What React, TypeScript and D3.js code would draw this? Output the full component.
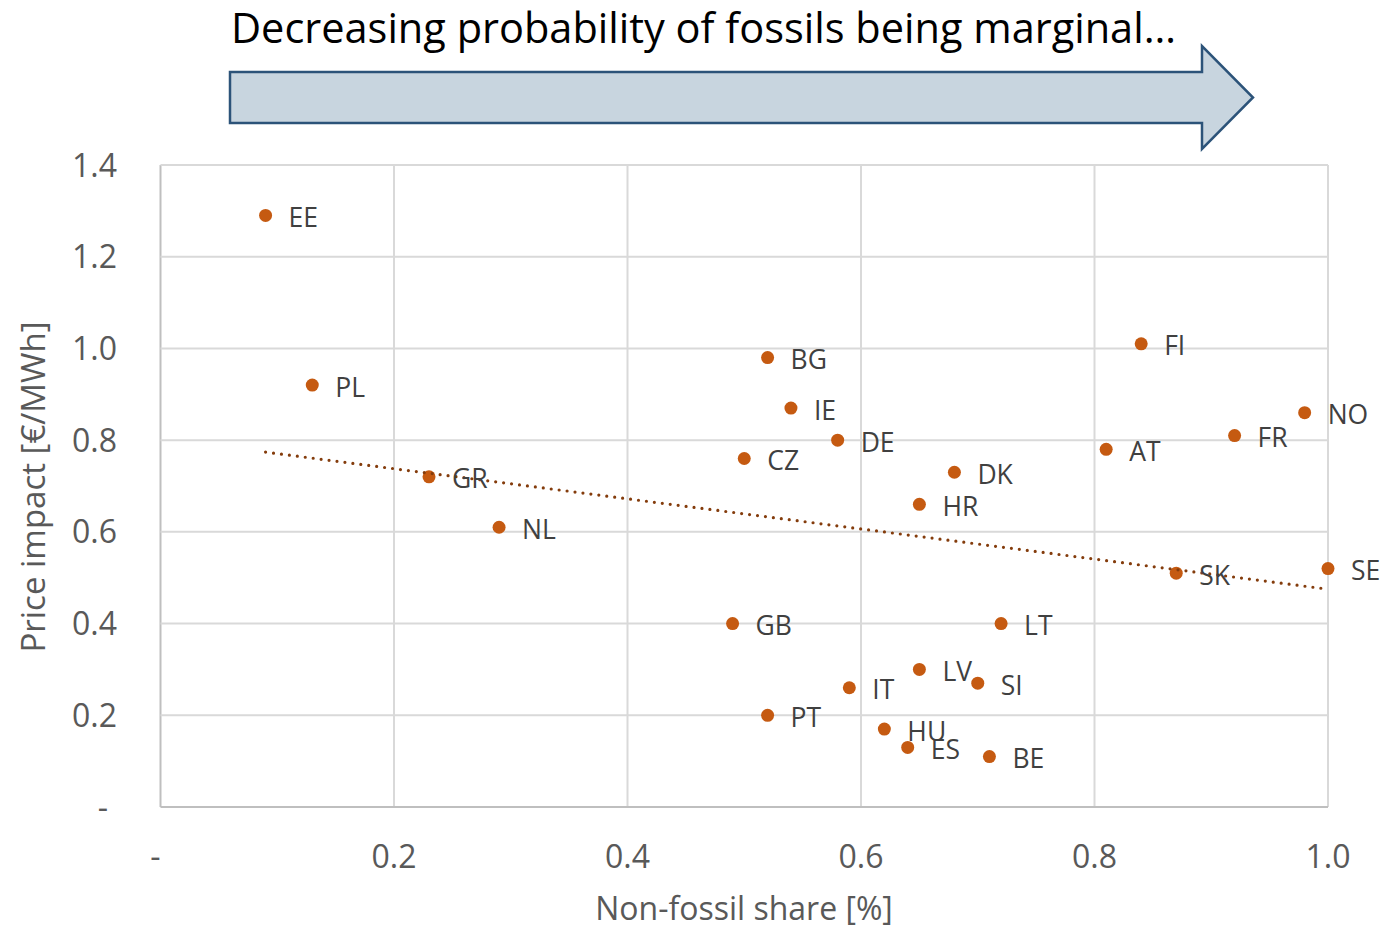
import React from "react";
import * as d3 from "d3";

// Country codes with their non-fossil share and marginal price impact
const countries = ["EE", "PL", "GR", "NL", "GB", "CZ", "BG", "IE", "DE", "PT", "IT", "HU", "ES", "LV", "HR", "DK", "SI", "BE", "LT", "AT", "FI", "SK", "FR", "NO", "SE"];
const nonFossilShare = [0.09, 0.13, 0.23, 0.29, 0.49, 0.5, 0.52, 0.54, 0.58, 0.52, 0.59, 0.62, 0.64, 0.65, 0.65, 0.68, 0.7, 0.71, 0.72, 0.81, 0.84, 0.87, 0.92, 0.98, 1.0];
const priceImpact = [1.29, 0.92, 0.72, 0.61, 0.4, 0.76, 0.98, 0.87, 0.8, 0.2, 0.26, 0.17, 0.13, 0.3, 0.66, 0.73, 0.27, 0.11, 0.4, 0.78, 1.01, 0.51, 0.81, 0.86, 0.52];

const xTicks = [0, 0.2, 0.4, 0.6, 0.8, 1.0];
const yTicks = [0, 0.2, 0.4, 0.6, 0.8, 1.0, 1.2, 1.4];

const titleText = "Decreasing probability of fossils being marginal…";
const xTitle = "Non-fossil share [%]";
const yTitle = "Price impact [€/MWh]";

const FONT = "'Open Sans', sans-serif";
const W = 1384;
const H = 928;

export default function App() {
  const x = d3.scaleLinear().domain([0, 1]).range([160.5, 1328]);
  const y = d3.scaleLinear().domain([0, 1.4]).range([807, 165]);

  const points = countries.map((c, i) => ({ c, x: nonFossilShare[i], y: priceImpact[i] }));

  // Least-squares linear trend
  const mx = d3.mean(nonFossilShare)!;
  const my = d3.mean(priceImpact)!;
  const sxy = d3.sum(points, (p) => (p.x - mx) * (p.y - my));
  const sxx = d3.sum(points, (p) => (p.x - mx) ** 2);
  const slope = sxy / sxx;
  const intercept = my - slope * mx;
  const [xmin, xmax] = d3.extent(nonFossilShare) as [number, number];
  const trend = d3
    .line<number>()
    .x((v) => x(v))
    .y((v) => y(intercept + slope * v))([xmin, xmax]);

  const fmt = (v: number) => (v === 0 ? "-" : d3.format(".1f")(v));

  // Banner arrow geometry
  const ax0 = 230, ax1 = 1202, ay0 = 72, ay1 = 123, headTop = 46, headBot = 149, tipX = 1253;
  const arrowPath = `M${ax0},${ay0} L${ax1},${ay0} L${ax1},${headTop} L${tipX},${(ay0 + ay1) / 2} L${ax1},${headBot} L${ax1},${ay1} L${ax0},${ay1} Z`;

  return (
    <svg width={W} height={H} style={{ position: "absolute", left: 0, top: 0, background: "#fff" }} fontFamily={FONT}>
      <rect width={W} height={H} fill="#fff" />
      <text x={231} y={43} fontSize={41.5} fill="#000">{titleText}</text>
      <path d={arrowPath} fill="#c8d5df" stroke="#2c5379" strokeWidth={2.5} strokeLinejoin="miter" />

      {/* gridlines */}
      {xTicks.map((t) => (
        <line key={"gx" + t} x1={x(t)} x2={x(t)} y1={y(1.4)} y2={y(0)} stroke={t === 0 ? "#bfbfbf" : "#d9d9d9"} strokeWidth={2} />
      ))}
      {yTicks.map((t) => (
        <line key={"gy" + t} x1={x(0)} x2={x(1)} y1={y(t)} y2={y(t)} stroke={t === 0 ? "#bfbfbf" : "#d9d9d9"} strokeWidth={2} />
      ))}

      {/* tick labels */}
      {yTicks.map((t) => (
        <text key={"ty" + t} x={t === 0 ? 108 : 117} y={y(t)} dy="0.36em" textAnchor="end" fontSize={32} fill="#595959">
          {fmt(t)}
        </text>
      ))}
      {xTicks.map((t) => (
        <text key={"tx" + t} x={t === 0 ? x(t) - 5 : x(t)} y={868} textAnchor="middle" fontSize={32} fill="#595959">
          {fmt(t)}
        </text>
      ))}

      {/* axis titles */}
      <text x={744} y={920} textAnchor="middle" fontSize={32} fill="#595959">{xTitle}</text>
      <text transform={`translate(45,487) rotate(-90)`} textAnchor="middle" fontSize={33} fill="#595959">{yTitle}</text>

      {/* points */}
      {points.map((p) => (
        <circle key={"p" + p.c} cx={x(p.x)} cy={y(p.y)} r={6.5} fill="#c55a11" />
      ))}

      {/* trend line */}
      <path d={trend ?? ""} fill="none" stroke="#843c0c" strokeWidth={3.2} strokeDasharray="0 8" strokeLinecap="round" />

      {/* data labels */}
      {points.map((p) => (
        <text key={"l" + p.c} x={x(p.x) + 23} y={y(p.y) + 2} dy="0.36em" fontSize={26.5} fill="#404040">
          {p.c}
        </text>
      ))}
    </svg>
  );
}
